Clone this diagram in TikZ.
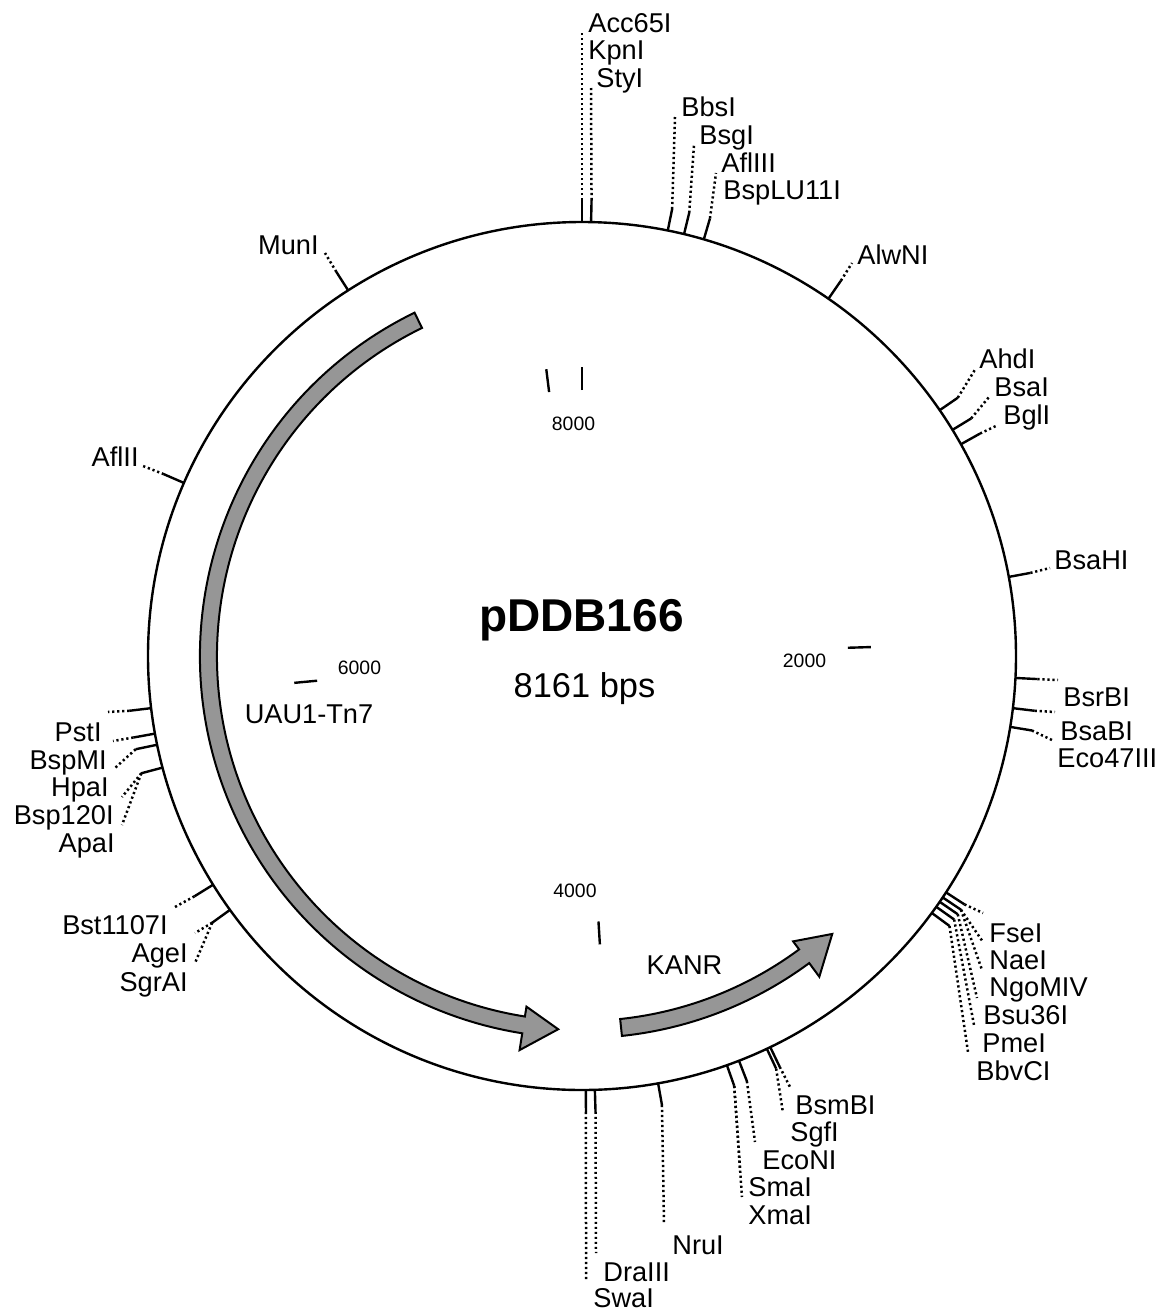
\documentclass[tikz,border=0pt]{standalone}
\usepackage{fontspec}
\setmainfont{Liberation Sans}
\usetikzlibrary{calc}
\definecolor{featgray}{RGB}{150,150,150}
\tikzset{
  backbone/.style={line width=1.2pt},
  sitetick/.style={line width=1.2pt},
  leader/.style={line width=1.25pt, dash pattern=on 1.1pt off 1.4pt},
  sitelab/.style={font=\fontsize{13.6}{16}\selectfont, inner sep=0pt},
  numlab/.style={font=\fontsize{9.7}{11}\selectfont, inner sep=0pt},
  feature/.style={fill=featgray, draw=black, line width=1pt, line join=miter},
}
% site tick: #1 name, #2 angle clockwise from top
\newcommand{\site}[2]{%
  \coordinate (#1a) at ($(C)+({90-#2}:434)$);
  \coordinate (#1b) at ($(C)+({90-#2}:456)$);
  \draw[sitetick] (#1a) -- (#1b);}
% leader: #1 site, #2 end name, #3 x px, #4 y px
\newcommand{\lead}[4]{%
  \coordinate (#2) at (#3,-#4);
  \draw[leader] (#1b) -- (#2);}
% ruler tick: #1 name, #2 angle
\newcommand{\ruler}[2]{%
  \coordinate (#1i) at ($(C)+({90-#2}:266)$);
  \coordinate (#1o) at ($(C)+({90-#2}:289)$);
  \draw[sitetick] (#1i) -- (#1o);}
\begin{document}
\begin{tikzpicture}[x=0.5pt,y=0.5pt]
\useasboundingbox (0,0) rectangle (1173,-1312);
\coordinate (C) at (582,-656);

% backbone
\draw[backbone] (C) circle[radius=434];

% features
\draw[feature] ($(C)+(116:382)$) arc[start angle=116, end angle=261, radius=382]
  -- ($(C)+(261:399)$) -- ($(C)+(266.35:374)$) -- ($(C)+(261:355)$)
  -- ($(C)+(261:365)$) arc[start angle=261, end angle=116, radius=365] -- cycle;
\draw[feature] ($(C)+(276:382)$) arc[start angle=276, end angle=306.5, radius=382]
  -- ($(C)+(306.5:399)$) -- ($(C)+(312:374)$) -- ($(C)+(306.5:355)$)
  -- ($(C)+(306.5:365)$) arc[start angle=306.5, end angle=276, radius=365] -- cycle;

% ruler
\ruler{r0}{0}
\ruler{r8}{352.898}
\ruler{r2}{88.225}
\ruler{r4}{176.45}
\ruler{r6}{264.67}
\node[numlab] (n8000) at (573.5,-424) {8000};
\node[numlab] (n2000) at (804.5,-661) {2000};
\node[numlab] (n4000) at (575,-891) {4000};
\node[numlab] (n6000) at (359.5,-668) {6000};

% centre
\node[font=\fontsize{23}{27}\selectfont\bfseries, inner sep=0pt, anchor=base] (title) at (581.5,-631) {pDDB166};
\node[font=\fontsize{17.2}{20}\selectfont, inner sep=0pt, anchor=base] (size) at (584.5,-697) {8161 bps};
\node[sitelab, anchor=base] (uau) at (309,-723) {UAU1-Tn7};
\node[sitelab, anchor=base] (kanr) at (684.5,-974) {KANR};

% ---- top ----
\site{acc}{0}
\lead{acc}{accd}{582}{33}
\node[sitelab, anchor=base west] (Lacc) at (588,-32) {Acc65I};
\node[sitelab, anchor=base west] (Lkpn) at (588,-59) {KpnI};
\site{sty}{1.2}
\lead{sty}{styd}{591}{88}
\node[sitelab, anchor=base west] (Lsty) at (596,-87) {StyI};
\site{bbs}{11.4}
\lead{bbs}{bbsd}{675}{117}
\node[sitelab, anchor=base west] (Lbbs) at (681,-116) {BbsI};
\site{bsg}{13.6}
\lead{bsg}{bsgd}{694}{145}
\node[sitelab, anchor=base west] (Lbsg) at (699,-144) {BsgI};
\site{afl}{16.3}
\lead{afl}{afld}{716}{173}
\node[sitelab, anchor=base west] (Lafl) at (721,-172) {AflIII};
\node[sitelab, anchor=base west] (Lbsplu) at (723,-199) {BspLU11I};

\site{alw}{34.6}
\lead{alw}{alwd}{852}{263}
\node[sitelab, anchor=base west] (Lalw) at (857,-264) {AlwNI};

% ---- right ----
\site{ahd}{55.5}
\lead{ahd}{ahdd}{976}{368}
\node[sitelab, anchor=base west] (Lahd) at (979,-368) {AhdI};
\site{bsa}{58.6}
\lead{bsa}{bsad}{989}{397}
\node[sitelab, anchor=base west] (Lbsa) at (994,-396) {BsaI};
\site{bgl}{60.8}
\lead{bgl}{bgld}{998}{425}
\node[sitelab, anchor=base west] (Lbgl) at (1003,-424) {BglI};
\site{bsh}{79.5}
\lead{bsh}{bshd}{1050}{568}
\node[sitelab, anchor=base west] (Lbsh) at (1054,-569) {BsaHI};
\site{bsr}{92.9}
\lead{bsr}{bsrd}{1058}{680}
\node[sitelab, anchor=base west] (Lbsr) at (1063,-706) {BsrBI};
\site{bsb}{96.9}
\lead{bsb}{bsbd}{1055}{712}
\node[sitelab, anchor=base west] (Lbsb) at (1060,-740) {BsaBI};
\site{eco}{99.4}
\lead{eco}{ecod}{1052}{740}
\node[sitelab, anchor=base west] (Leco) at (1057,-767) {Eco47III};

% ---- lower right bundle ----
\site{ta}{123.0}
\site{tb}{123.8}
\site{tc}{124.5}
\site{td}{125.3}
\site{te}{126.3}
\lead{ta}{fsed}{983}{913}
\lead{tb}{naed}{983}{942}
\lead{tb}{ngod}{982}{970}
\lead{tc}{bsud}{977}{998}
\lead{td}{pmed}{974}{1025}
\lead{te}{bbvd}{968}{1052}
\node[sitelab, anchor=base west] (Lfse) at (989,-942) {FseI};
\node[sitelab, anchor=base west] (Lnae) at (989,-969) {NaeI};
\node[sitelab, anchor=base west] (Lngo) at (989,-996) {NgoMIV};
\node[sitelab, anchor=base west] (Lbsu) at (983,-1024) {Bsu36I};
\node[sitelab, anchor=base west] (Lpme) at (982,-1052) {PmeI};
\node[sitelab, anchor=base west] (Lbbv) at (976,-1080) {BbvCI};

% ---- bottom ----
\site{bsm}{154.3}
\site{sgf}{154.8}
\lead{bsm}{bsmd}{790}{1087}
\lead{sgf}{sgfd}{783}{1113}
\node[sitelab, anchor=base west] (Lbsm) at (795,-1114) {BsmBI};
\node[sitelab, anchor=base west] (Lsgf) at (790,-1141) {SgfI};
\site{econi}{158.8}
\lead{econi}{econid}{755}{1142}
\node[sitelab, anchor=base west] (Leconi) at (762,-1169) {EcoNI};
\site{sma}{160.5}
\lead{sma}{smad}{740}{1168}
\lead{sma}{xmad}{742}{1197}
\node[sitelab, anchor=base west] (Lsma) at (748,-1196) {SmaI};
\node[sitelab, anchor=base west] (Lxma) at (748,-1224) {XmaI};
\site{nru}{169.9}
\lead{nru}{nrud}{664}{1223}
\node[sitelab, anchor=base west] (Lnru) at (672,-1254) {NruI};
\site{dra}{178.3}
\lead{dra}{drad}{596}{1253}
\node[sitelab, anchor=base west] (Ldra) at (603,-1281) {DraIII};
\site{swa}{179.5}
\lead{swa}{swad}{586}{1280}
\node[sitelab, anchor=base west] (Lswa) at (593,-1307) {SwaI};

% ---- left ----
\site{age}{234.2}
\lead{age}{aged}{195}{933}
\lead{age}{sgrd}{195}{963}
\node[sitelab, anchor=base east] (Lage) at (188,-962) {AgeI};
\node[sitelab, anchor=base east] (Lsgr) at (188,-991) {SgrAI};
\site{bst}{238.2}
\lead{bst}{bstd}{175}{907}
\node[sitelab, anchor=base east] (Lbst) at (168,-934) {Bst1107I};
\site{apa}{255.1}
\lead{apa}{bspd}{122}{797}
\lead{apa}{apad}{122}{825}
\node[sitelab, anchor=base east] (Lbsp) at (114,-824) {Bsp120I};
\node[sitelab, anchor=base east] (Lapa) at (115,-852) {ApaI};
\site{hpa}{258.2}
\lead{hpa}{hpad}{115}{768}
\node[sitelab, anchor=base east] (Lhpa) at (109,-796) {HpaI};
\site{bspm}{259.7}
\lead{bspm}{bspmd}{113}{741}
\node[sitelab, anchor=base east] (Lbspm) at (107,-769) {BspMI};
\site{pst}{263.1}
\lead{pst}{pstd}{108}{712}
\node[sitelab, anchor=base east] (Lpst) at (102,-741) {PstI};
\site{aflii}{293.5}
\lead{aflii}{afliid}{143}{466}
\node[sitelab, anchor=base east] (Laflii) at (139,-466) {AflII};
\site{mun}{327.4}
\lead{mun}{mund}{325}{253}
\node[sitelab, anchor=base east] (Lmun) at (319,-254) {MunI};
\end{tikzpicture}
\end{document}
